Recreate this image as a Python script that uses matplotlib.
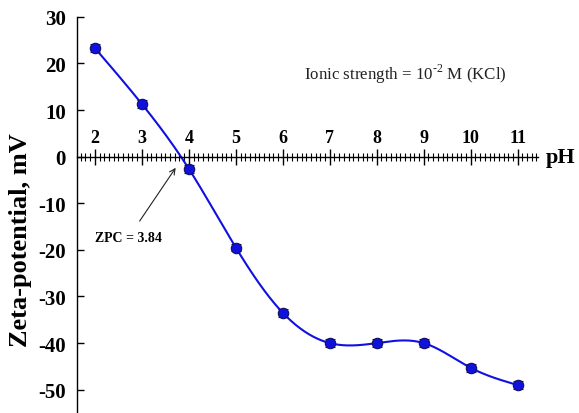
import matplotlib
matplotlib.use("Agg")
import matplotlib.pyplot as plt
from matplotlib.ticker import MultipleLocator
import numpy as np

# data
ph = [2, 3, 4, 5, 6, 7, 8, 9, 10, 11]
zeta = [23.3, 11.3, -2.6, -19.5, -33.5, -40.0, -40.0, -40.0, -45.3, -49.0]
zeta_err = [0.9, 0.9, 0.9, 0.8, 0.8, 0.8, 0.9, 0.8, 0.8, 0.8]
zpc = 3.84

plt.rcParams["font.family"] = ["Liberation Serif", "DejaVu Serif"]
plt.rcParams["axes.unicode_minus"] = False

BLUE = "#1010e0"
NAVY = "#101060"


def natural_spline(x, y, xs):
    # plain natural cubic spline, enough for the smooth trend curve
    x = np.asarray(x, float)
    y = np.asarray(y, float)
    n = len(x)
    h = np.diff(x)
    A = np.zeros((n, n))
    b = np.zeros(n)
    A[0, 0] = A[-1, -1] = 1.0
    for i in range(1, n - 1):
        A[i, i - 1] = h[i - 1]
        A[i, i] = 2 * (h[i - 1] + h[i])
        A[i, i + 1] = h[i]
        b[i] = 6 * ((y[i + 1] - y[i]) / h[i] - (y[i] - y[i - 1]) / h[i - 1])
    M = np.linalg.solve(A, b)
    idx = np.clip(np.searchsorted(x, xs) - 1, 0, n - 2)
    x0, x1 = x[idx], x[idx + 1]
    hh = x1 - x0
    t0, t1 = x1 - xs, xs - x0
    return (M[idx] * t0**3 / (6 * hh) + M[idx + 1] * t1**3 / (6 * hh)
            + (y[idx] / hh - M[idx] * hh / 6) * t0
            + (y[idx + 1] / hh - M[idx + 1] * hh / 6) * t1)


fig = plt.figure(figsize=(5.79, 4.14), dpi=100)
ax = fig.add_axes([0.133, 0.0, 0.796, 0.957])

xs = np.linspace(ph[0], ph[-1], 400)
ax.plot(xs, natural_spline(ph, zeta, xs), color=BLUE, lw=1.5, zorder=2)
ax.errorbar(ph, zeta, yerr=zeta_err, fmt="o", ms=7.5, mfc=BLUE, mec=NAVY,
            mew=0.8, ecolor=NAVY, elinewidth=1.0, capsize=3.5, capthick=1.0,
            zorder=3)

ax.set_xlim(1.62, 11.43)
ax.set_ylim(-55, 30)

for s in ("top", "right"):
    ax.spines[s].set_visible(False)
ax.spines["bottom"].set_position(("data", 0))
ax.spines["left"].set_linewidth(1.0)
ax.spines["bottom"].set_linewidth(1.0)

ax.xaxis.set_minor_locator(MultipleLocator(0.1))
ax.set_xticks(ph)
ax.tick_params(axis="x", which="major", direction="inout", length=12,
               width=1.0, pad=-26, labelsize=13)
ax.tick_params(axis="x", which="minor", direction="inout", length=6,
               width=0.8)
ax.set_yticks(range(-50, 31, 10))
ax.tick_params(axis="y", which="major", direction="in", length=5,
               width=1.0, labelsize=15, pad=8)
for lab in ax.get_xticklabels() + ax.get_yticklabels():
    lab.set_fontweight("bold")

ax.set_ylabel("Zeta-potential, mV", fontsize=19, fontweight="bold")
ax.yaxis.set_label_coords(-0.098, 0.44)
ax.text(1.018, 0, "pH", transform=ax.get_yaxis_transform(),
        fontsize=16, fontweight="bold", ha="left", va="center")

ax.text(6.45, 17.8, "Ionic strength = 10$^{\\mathregular{\u20102}}$ M (KCl)",
        fontsize=12.2, ha="left", va="center", color="#222222")

ax.annotate(f"ZPC = {zpc}", xy=(3.72, -2.4), xytext=(2.72, -17.3),
            fontsize=10, fontweight="bold", ha="center", va="center",
            arrowprops=dict(arrowstyle="->", color="#222222", lw=0.8,
                            shrinkA=6, shrinkB=0))

fig.savefig("out.png", dpi=100)
